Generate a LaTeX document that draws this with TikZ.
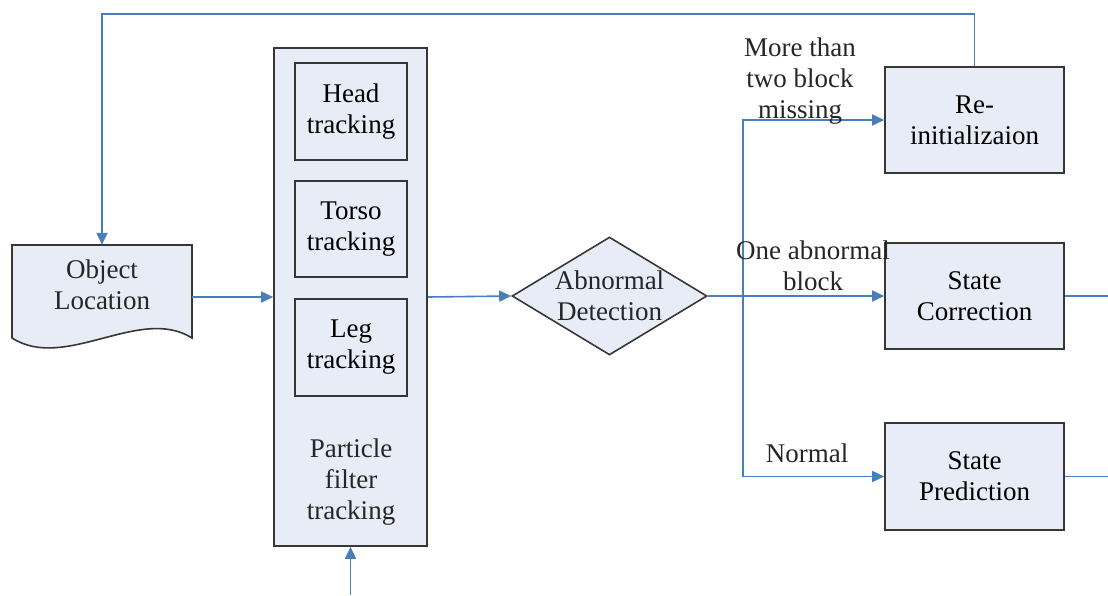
\documentclass[tikz,border=0pt]{standalone}
\usepackage{fontspec}
\setmainfont{Liberation Serif}
\usetikzlibrary{shapes.geometric,arrows.meta,calc}
\definecolor{boxfill}{RGB}{231,236,246}
\definecolor{boxline}{RGB}{55,55,55}
\definecolor{connblue}{RGB}{74,126,187}
\newcommand\fsz{\fontsize{27}{31}\selectfont}
\tikzset{
  box/.style={draw=boxline, fill=boxfill, line width=1.6pt, align=center, inner sep=0pt, font=\fsz},
  txt/.style={align=center, inner sep=0pt, font=\fsz, text=black!85},
  conn/.style={draw=connblue, line width=1.6pt},
  arr/.style={conn, -{Triangle[length=12pt,width=11pt]}}
}
\begin{document}
\begin{tikzpicture}[x=1pt,y=-1pt]
\useasboundingbox (0,0) rectangle (1108,595);
\coordinate (top) at (0,14);
\coordinate (bot) at (0,595);
\coordinate (redge) at (1108,0);
\coordinate (split) at (743,0);

% Object Location document shape
\filldraw[fill=boxfill, draw=boxline, line width=1.6pt]
  (12,245) -- (192,245) -- (192,338) .. controls (140,305) and (65,372) .. (12,338) -- cycle;
\node[minimum width=180pt, minimum height=93pt, inner sep=0pt,
      label={[txt, yshift=6.5pt]center:Object\\Location}] (objloc) at (102,291.5) {};

% Particle filter block
\node[box, minimum width=153pt, minimum height=498pt] (pf) at (350.5,297) {};
\node[box, minimum width=112pt, minimum height=97pt] (head) at (351,111.5) {Head\\tracking};
\node[box, minimum width=112pt, minimum height=96pt] (torso) at (351,229) {Torso\\tracking};
\node[box, minimum width=112pt, minimum height=97pt] (leg) at (351,347.5) {Leg\\tracking};
\node[txt] (pflabel) at (351,482) {Particle\\filter\\tracking};

% Decision
\node[draw=boxline, fill=boxfill, line width=1.6pt, diamond, inner sep=0pt,
      minimum width=195pt, minimum height=118pt,
      label={[txt]center:Abnormal\\Detection}] (det) at (609.5,296) {};

% Right boxes
\node[box, minimum width=179pt, minimum height=106pt] (reinit) at (974.5,120) {Re-\\initializaion};
\node[box, minimum width=179pt, minimum height=106pt] (sc) at (974.5,296) {State\\Correction};
\node[box, minimum width=179pt, minimum height=107pt] (sp) at (974.5,476.5) {State\\Prediction};

% Connectors
\draw[arr] (reinit.north) -- (reinit.north |- top) -- (objloc.north |- top) -- (objloc.north);
\draw[arr] (objloc.east |- pf.west) -- (pf.west);
\draw[arr] (pf.south |- bot) -- (pf.south);
\draw[arr] (pf.east) -- (det.west);
\draw[arr] (det.east) -- (sc.west);
\draw[arr] (split |- det.east) |- (reinit.west);
\draw[arr] (split |- det.east) |- (sp.west);
\draw[conn] (sc.east) -- (sc.east -| redge);
\draw[conn] (sp.east) -- (sp.east -| redge);

% Branch labels
\node[txt] (lmore) at (800,81) {More than\\two block\\missing};
\node[txt] (lone) at (813,266) {One abnormal\\block};
\node[txt] (lnorm) at (807,453) {Normal};
\end{tikzpicture}
\end{document}
